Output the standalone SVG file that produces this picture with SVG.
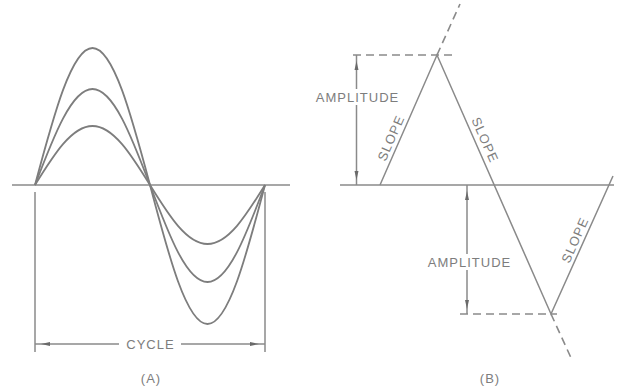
<svg xmlns="http://www.w3.org/2000/svg" width="639" height="389" viewBox="0 0 639 389">
<style>
.ln{fill:none;stroke:#8a8a8a;stroke-width:1.5}
.cv{fill:none;stroke:#7d7d7d;stroke-width:1.8}
.ds{fill:none;stroke:#8a8a8a;stroke-width:1.6;stroke-dasharray:8 5}
.ah{fill:#6a6a6a;stroke:none}
.t{font-family:"Liberation Sans",Arial,sans-serif;font-size:13px;fill:#7d7d7d;letter-spacing:1px}
</style>
<rect width="639" height="389" fill="#ffffff"/>
<g id="panelA">
  <g id="axisA"><line class="ln" x1="12" y1="185" x2="290" y2="185"/></g>
  <g id="waves">
    <path class="cv" d="M35,185 C53.75,114.81 71.69,48 92.5,48 C113.31,48 131.25,114.81 150,185 C168.75,256.21 186.69,324 207.5,324 C228.31,324 246.25,256.21 265,185"/>
    <path class="cv" d="M35,185 C53.75,135.82 71.69,89 92.5,89 C113.31,89 131.25,135.82 150,185 C168.75,234.69 186.69,282 207.5,282 C228.31,282 246.25,234.69 265,185"/>
    <path class="cv" d="M35,185 C53.75,154.77 71.69,126 92.5,126 C113.31,126 131.25,154.77 150,185 C168.75,215.23 186.69,244 207.5,244 C228.31,244 246.25,215.23 265,185"/>
  </g>
  <g id="cycle">
    <line class="ln" x1="35" y1="192" x2="35" y2="352"/>
    <line class="ln" x1="265" y1="192" x2="265" y2="352"/>
    <line class="ln" x1="35" y1="344" x2="119" y2="344"/>
    <line class="ln" x1="181" y1="344" x2="265" y2="344"/>
    <path class="ah" d="M41,344 L50,342 L50,346 Z"/>
    <path class="ah" d="M259,344 L250,342 L250,346 Z"/>
    <text class="t" x="150.5" y="349" text-anchor="middle">CYCLE</text>
  </g>
  <text class="t" x="151" y="383" text-anchor="middle">(A)</text>
</g>
<g id="panelB">
  <g id="axisB"><line class="ln" x1="340" y1="185" x2="614" y2="185"/></g>
  <g id="triangle">
    <polyline class="ln" points="380,185 437,55 551,314 613,176"/>
    <line class="ds" x1="437" y1="55" x2="460" y2="4"/>
    <line class="ds" x1="551" y1="314" x2="572" y2="360"/>
    <line class="ds" x1="353" y1="55" x2="453" y2="55"/>
    <line class="ds" x1="460" y1="314" x2="557" y2="314"/>
  </g>
  <g id="amp1">
    <line class="ln" x1="356.5" y1="55" x2="356.5" y2="89"/>
    <line class="ln" x1="356.5" y1="105" x2="356.5" y2="185"/>
    <path class="ah" d="M356.5,61 L354.5,70 L358.5,70 Z"/>
    <path class="ah" d="M356.5,180 L354.5,171 L358.5,171 Z"/>
    <text class="t" x="357.5" y="102" text-anchor="middle">AMPLITUDE</text>
  </g>
  <g id="amp2">
    <line class="ln" x1="467" y1="185" x2="467" y2="254"/>
    <line class="ln" x1="467" y1="270" x2="467" y2="314"/>
    <path class="ah" d="M467,191 L465,200 L469,200 Z"/>
    <path class="ah" d="M467,309 L465,300 L469,300 Z"/>
    <text class="t" x="469.5" y="267" text-anchor="middle">AMPLITUDE</text>
  </g>
  <g id="slopes">
    <text class="t" transform="translate(391,138) rotate(-66.3)" x="0" y="4.5" text-anchor="middle">SLOPE</text>
    <text class="t" transform="translate(485,140) rotate(66.2)" x="0" y="4.5" text-anchor="middle">SLOPE</text>
    <text class="t" transform="translate(575,240) rotate(-66)" x="0" y="4.5" text-anchor="middle">SLOPE</text>
  </g>
  <text class="t" x="490" y="383" text-anchor="middle">(B)</text>
</g>
</svg>
